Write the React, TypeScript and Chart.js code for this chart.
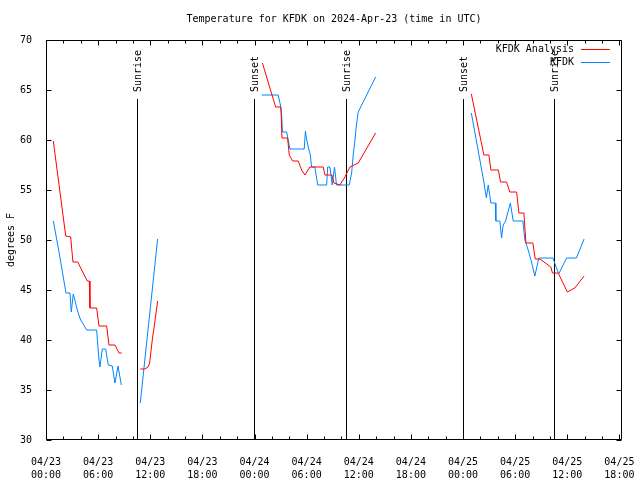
import React, { useEffect, useRef } from "react";
import { Chart, registerables } from "chart.js";

Chart.register(...registerables);

const TITLE = "Temperature for KFDK on 2024-Apr-23 (time in UTC)";
const Y_TITLE = "degrees F";
const MONTH = "04";
const FIRST_DAY = 23;
const X_MIN = 0;
const X_MAX = 66.3;
const Y_MIN = 30;
const Y_MAX = 70;

const xTickHours = [0, 6, 12, 18, 24, 30, 36, 42, 48, 54, 60, 66];
const xMinorTickHours = [
  2, 4, 8, 10, 14, 16, 20, 22, 26, 28, 32, 34, 38, 40, 44, 46, 50, 52, 56, 58, 62, 64,
];
const yTicks = [30, 35, 40, 45, 50, 55, 60, 65, 70];

const seriesNames = ["KFDK Analysis", "KFDK"];

// KFDK Analysis (hours since 04/23 00:00 UTC, °F); null = no data
const analysisHours = [
  0.84, 2.27, 2.84, 3.1, 3.65, 4.75, 4.98, 5.06, 5.83, 6.1, 6.98, 7.25, 7.94, 8.4, 8.71,
  9.8,
  10.85, 11.36, 11.74, 11.93, 12.23, 12.51, 12.85,
  18,
  24.91, 26.43, 27.04, 27.16, 27.81, 28.0, 28.39, 29.03, 29.42, 29.8, 30.38, 31.91, 32.11,
  32.91, 33.14, 33.83, 34.41, 34.98, 35.94, 37.94,
  43,
  48.96, 50.4, 50.98, 51.21, 52.07, 52.32, 53.01, 53.39, 54.17, 54.43, 55.01, 55.24, 56.04,
  56.31, 56.85, 58.11, 58.29, 58.95, 60.01, 60.87, 61.94,
];
const analysisTemps = [
  59.9, 50.4, 50.3, 47.8, 47.8, 45.9, 45.9, 43.2, 43.2, 41.4, 41.4, 39.5, 39.5, 38.7, 38.7,
  null,
  37.1, 37.1, 37.3, 37.7, 40.0, 41.7, 43.9,
  null,
  67.7, 63.3, 63.3, 60.2, 60.2, 58.5, 57.9, 57.9, 57.0, 56.5, 57.3, 57.3, 56.5,
  56.5, 55.7, 55.5, 56.3, 57.3, 57.7, 60.7,
  null,
  64.6, 58.5, 58.5, 57.0, 57.0, 55.8, 55.8, 54.8, 54.8, 52.7, 52.7, 49.7, 49.7,
  48.1, 48.1, 47.3, 46.7, 46.7, 44.8, 45.2, 46.4,
];

// KFDK observations
const obsHours = [
  0.84, 1.46, 2.3, 2.76, 2.91, 3.14, 3.6, 3.99, 4.29, 4.68, 5.83, 5.98, 6.1, 6.21, 6.48,
  6.87, 7.17, 7.63, 7.94, 8.29, 8.67,
  9.8,
  10.85, 11.74, 12.85,
  18,
  24.82, 26.73, 26.98, 27.12, 27.22, 27.7, 27.88, 28.08, 29.72, 29.86, 29.97, 30.18, 30.43,
  30.57, 30.95, 31.27, 32.3, 32.42, 32.68, 32.95, 33.21, 33.44, 34.9, 35.18, 35.36, 35.56,
  35.73, 35.94, 37.94,
  43,
  48.96, 50.4, 50.69, 50.9, 51.21, 51.72, 51.78, 52.24, 52.44, 52.62, 52.9, 53.45, 53.78,
  54.89, 55.12, 55.5, 55.89, 56.27, 56.73, 58.34, 59.01, 59.92, 61.05, 61.94,
];
const obsTemps = [
  51.9, 49.0, 44.7, 44.7, 42.8, 44.6, 43.0, 42.0, 41.6, 41.0, 41.0, 39.3, 38.0, 37.3, 39.1,
  39.1, 37.5, 37.4, 35.7, 37.4, 35.5,
  null,
  33.7, 41.0, 50.1,
  null,
  64.5, 64.5, 63.5, 62.5, 60.8, 60.8, 60.0, 59.1, 59.1, 60.9, 60.2, 59.3, 58.5,
  57.3, 57.3, 55.5, 55.5, 57.3, 57.3, 55.5, 57.3, 55.5, 55.5, 56.7, 58.5, 60.0,
  61.5, 62.8, 66.3,
  null,
  62.7, 55.8, 54.2, 55.5, 53.7, 53.7, 51.9, 51.9, 50.2, 51.5, 51.9, 53.7, 51.9,
  51.9, 50.0, 49.0, 47.8, 46.4, 48.2, 48.2, 46.6, 48.2, 48.2, 50.1,
];

const sunEventHours = [10.5, 23.97, 34.55, 48.0, 58.48];
const sunEventLabels = ["Sunrise", "Sunset", "Sunrise", "Sunset", "Sunrise"];
const SUN_LINE_TOP = 64.1;
const SUN_LABEL_BASE = 64.8;

const FONT_FAMILY = '"DejaVu Sans Mono", "Liberation Mono", monospace';
const RED = "#ff0000";
const BLUE = "#0084ff";
const seriesColors = [RED, BLUE];

function pad2(n: number) {
  return n < 10 ? "0" + n : String(n);
}

function xLabel(v: number): string[] {
  const day = FIRST_DAY + Math.floor(v / 24);
  const hour = Math.round(v % 24);
  return [MONTH + "/" + pad2(day), pad2(hour) + ":00"];
}

const decorPlugin = {
  id: "gnuplotDecor",
  beforeDatasetsDraw(chart: any) {
    const { ctx, scales } = chart;
    const x = scales.x;
    const y = scales.y;
    ctx.save();
    ctx.strokeStyle = "#000";
    ctx.lineWidth = 1;
    ctx.fillStyle = "#000";
    ctx.font = "10px " + FONT_FAMILY;
    const yTop = y.getPixelForValue(SUN_LINE_TOP);
    const yBot = y.getPixelForValue(Y_MIN);
    const yLab = y.getPixelForValue(SUN_LABEL_BASE);
    sunEventHours.forEach((h, i) => {
      const px = Math.round(x.getPixelForValue(h)) + 0.5;
      ctx.beginPath();
      ctx.moveTo(px, yBot);
      ctx.lineTo(px, yTop);
      ctx.stroke();
      ctx.save();
      ctx.translate(px + 1, yLab);
      ctx.rotate(-Math.PI / 2);
      ctx.textAlign = "left";
      ctx.textBaseline = "middle";
      ctx.fillText(sunEventLabels[i], 0, 0);
      ctx.restore();
    });
    ctx.restore();
  },
  afterDraw(chart: any) {
    const { ctx, chartArea: a, scales } = chart;
    const x = scales.x;
    const y = scales.y;
    ctx.save();
    ctx.strokeStyle = "#000";
    ctx.lineWidth = 1;
    const L = a.left + 0.5;
    const R = a.right - 0.5;
    const T = a.top + 0.5;
    const B = a.bottom - 0.5;
    ctx.beginPath();
    ctx.rect(L, T, R - L, B - T);
    const xt = (h: number, len: number) => {
      const px = Math.round(x.getPixelForValue(h)) + 0.5;
      ctx.moveTo(px, B);
      ctx.lineTo(px, B - len);
      ctx.moveTo(px, T);
      ctx.lineTo(px, T + len);
    };
    xTickHours.forEach((h) => xt(h, 5));
    xMinorTickHours.forEach((h) => xt(h, 3));
    yTicks.forEach((v) => {
      const py = Math.round(y.getPixelForValue(v)) + 0.5;
      ctx.moveTo(L, py);
      ctx.lineTo(L + 5, py);
      ctx.moveTo(R, py);
      ctx.lineTo(R - 5, py);
    });
    ctx.stroke();

    // legend
    ctx.font = "10px " + FONT_FAMILY;
    ctx.fillStyle = "#000";
    ctx.textAlign = "right";
    ctx.textBaseline = "middle";
    seriesNames.forEach((name, i) => {
      const rowY = a.top + 9 + i * 13;
      ctx.fillText(name, a.right - 48, rowY);
      ctx.strokeStyle = seriesColors[i];
      ctx.beginPath();
      ctx.moveTo(a.right - 41, rowY + 0.5);
      ctx.lineTo(a.right - 12, rowY + 0.5);
      ctx.stroke();
    });
    ctx.restore();
  },
};

function toPoints(hours: number[], temps: (number | null)[]) {
  return hours.map((h, i) => ({ x: h, y: temps[i] }));
}

function zeroPadding(s: any) {
  s.paddingLeft = 0;
  s.paddingRight = 0;
  s.paddingTop = 0;
  s.paddingBottom = 0;
}

export default function App() {
  const canvasRef = useRef<HTMLCanvasElement | null>(null);

  useEffect(() => {
    const canvas = canvasRef.current;
    if (!canvas) return;
    const tickFont = { family: FONT_FAMILY, size: 10, lineHeight: 1.3 };
    const chart = new Chart(canvas, {
      type: "line",
      data: {
        datasets: [
          {
            label: seriesNames[0],
            data: toPoints(analysisHours, analysisTemps),
            borderColor: RED,
            backgroundColor: RED,
            borderWidth: 1,
            pointRadius: 0,
            tension: 0,
            spanGaps: false,
          },
          {
            label: seriesNames[1],
            data: toPoints(obsHours, obsTemps),
            borderColor: BLUE,
            backgroundColor: BLUE,
            borderWidth: 1,
            pointRadius: 0,
            tension: 0,
            spanGaps: false,
          },
        ],
      },
      options: {
        responsive: false,
        devicePixelRatio: 1,
        animation: false,
        layout: { padding: { left: 0, right: 18, top: 0, bottom: 0 } },
        plugins: {
          legend: { display: false },
          tooltip: { enabled: false },
          title: {
            display: true,
            text: TITLE,
            color: "#000",
            fullSize: false,
            font: { family: FONT_FAMILY, size: 10, weight: "normal", lineHeight: 1.2 },
            padding: { top: 13, bottom: 15 },
          },
        },
        scales: {
          x: {
            type: "linear",
            min: X_MIN,
            max: X_MAX,
            grid: { display: false },
            border: { display: false },
            afterBuildTicks: (s: any) => {
              s.ticks = xTickHours.map((v) => ({ value: v }));
            },
            afterFit: (s: any) => {
              s.height = 40;
              zeroPadding(s);
            },
            ticks: {
              autoSkip: false,
              maxRotation: 0,
              minRotation: 0,
              padding: 8,
              color: "#000",
              font: tickFont,
              callback: (v: any) => xLabel(Number(v)),
            },
          },
          y: {
            type: "linear",
            min: Y_MIN,
            max: Y_MAX,
            grid: { display: false },
            border: { display: false },
            afterBuildTicks: (s: any) => {
              s.ticks = yTicks.map((v) => ({ value: v }));
            },
            afterFit: (s: any) => {
              s.width = 46;
              zeroPadding(s);
            },
            ticks: {
              padding: 6,
              color: "#000",
              font: tickFont,
              callback: (v: any) => String(v),
            },
            title: {
              display: true,
              text: Y_TITLE,
              color: "#000",
              font: { family: FONT_FAMILY, size: 10, lineHeight: 1.2 },
              padding: { top: 5, bottom: 0 },
            },
          },
        },
      },
      plugins: [decorPlugin],
    } as any);
    return () => chart.destroy();
  }, []);

  return (
    <div style={{ position: "absolute", left: 0, top: 0, width: 640, height: 480, background: "#fff" }}>
      <canvas ref={canvasRef} width={640} height={480} style={{ display: "block" }} />
    </div>
  );
}
